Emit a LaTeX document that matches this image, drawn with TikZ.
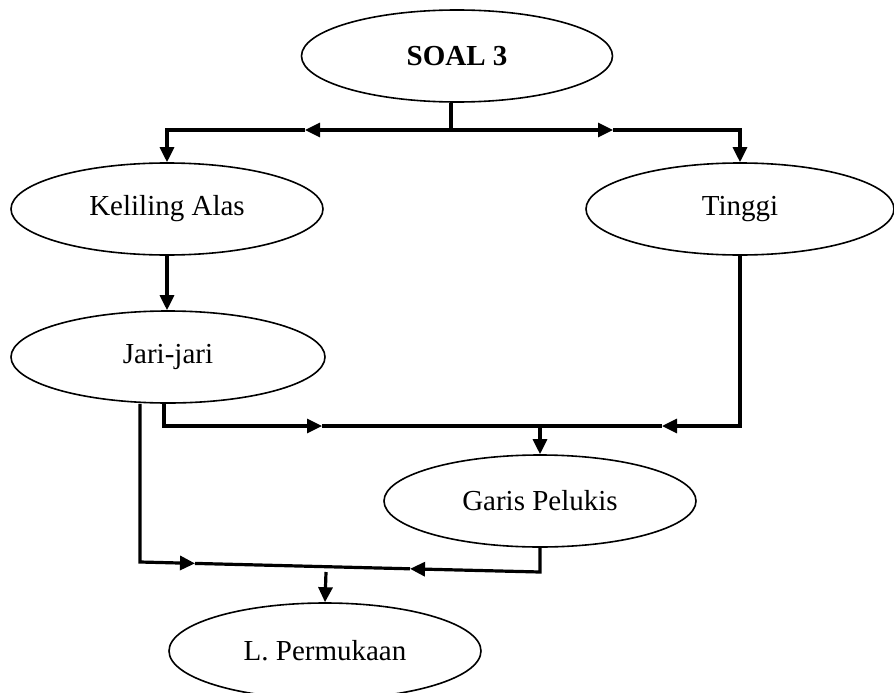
\documentclass[tikz,border=0pt]{standalone}
\usepackage{fontspec}
\setmainfont{Liberation Serif}
\usetikzlibrary{arrows.meta,calc,shapes.geometric}
\begin{document}
\begin{tikzpicture}[x=1pt,y=-1pt,
  oval/.style={ellipse,draw,line width=1.6pt,inner sep=0pt,
    font=\fontsize{29}{34}\selectfont},
  conn/.style={line width=3.2pt,line join=miter},
  arr/.style={-{Triangle[length=15pt,width=14pt]}}]
\useasboundingbox (0,0) rectangle (894,693);

% concept ovals
\node[oval,minimum width=311,minimum height=92] (soal)   at (457,56)  {\textbf{SOAL 3}};
\node[oval,minimum width=312,minimum height=92] (kel)    at (167,209) {Keliling Alas};
\node[oval,minimum width=308,minimum height=92] (tinggi) at (740,209) {Tinggi};
\node[oval,minimum width=314,minimum height=92] (jari)   at (168,357) {Jari-jari};
\node[oval,minimum width=312,minimum height=92] (garis)  at (540,501) {Garis Pelukis};
\node[oval,minimum width=312,minimum height=96] (perm)   at (325,651) {L. Permukaan};

% junction points and mid-line arrow tips
\coordinate (j0) at (451,130);
\coordinate (aL) at (305,130);
\coordinate (aR) at (613,130);
\coordinate (a1) at (322,426);
\coordinate (b1) at (540,426);
\coordinate (a2) at (662,426);
\coordinate (c2) at (140,562);
\coordinate (a3) at (195,563.4);
\coordinate (a4) at (410,568.8);
\coordinate (c3) at (540,572);
\coordinate (d1) at (326,572);

% SOAL 3 splits into Keliling Alas and Tinggi
\draw[conn] (soal.south -| j0) -- (j0);
\draw[conn,arr] (j0) -- (aL);
\draw[conn,arr] (aL) -| (kel.north);
\draw[conn,arr] (j0) -- (aR);
\draw[conn,arr] (aR) -| (tinggi.north);

% Keliling Alas gives Jari-jari
\draw[conn,arr] (kel.south) -- (kel.south |- jari.north);

% Jari-jari and Tinggi give Garis Pelukis
\draw[conn,arr] ($(jari.south)+(-4,0)$) |- (a1);
\draw[conn] (a1) -- (a2);
\draw[conn,arr] (tinggi.south) |- (a2);
\draw[conn,arr] (b1) -- (garis.north);

% Jari-jari and Garis Pelukis give L. Permukaan
\draw[conn,arr] ($(jari.south)+(-28,0)$) -- (c2) -- (a3);
\draw[conn] (a3) -- (a4);
\draw[conn,arr] (garis.south) -- (c3) -- (a4);
\draw[conn,arr] (d1) -- (perm.north);
\end{tikzpicture}
\end{document}
